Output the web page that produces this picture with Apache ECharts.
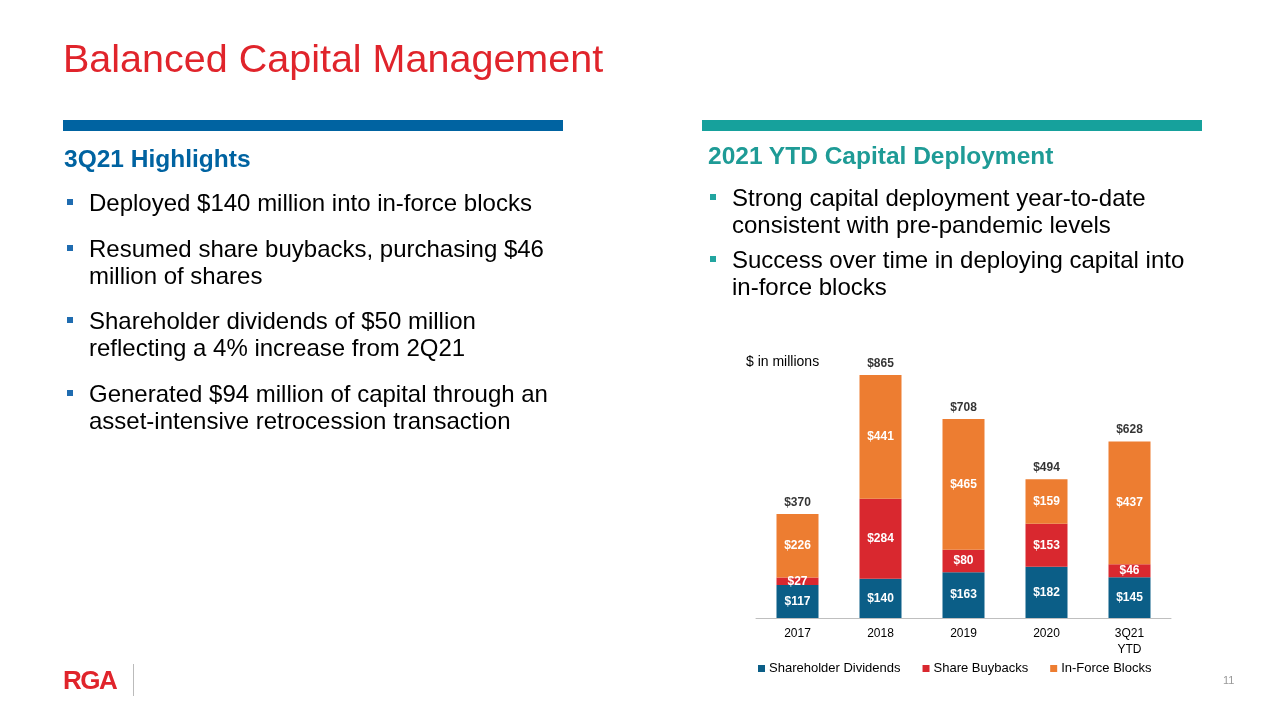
<!DOCTYPE html>
<html>
<head>
<meta charset="utf-8">
<script src="https://cdn.jsdelivr.net/npm/echarts@6/dist/echarts.min.js"></script>
<style>
  html, body { margin: 0; padding: 0; background: #fff; }
  body { width: 1280px; height: 720px; position: relative; overflow: hidden; font-family: "Liberation Sans", Arial, sans-serif; }
  #chart { position: absolute; left: 0; top: 0; width: 1280px; height: 720px; }
  .abs { position: absolute; white-space: nowrap; }
  .title { left: 63px; top: 38px; font-size: 39.5px; line-height: 40px; color: #E0242B; }
  .bar { height: 11px; }
  .h { font-size: 24.5px; font-weight: bold; line-height: 27px; }
  .p { font-size: 24px; line-height: 27.3px; color: #000; }
  .sq { width: 6px; height: 6px; }
</style>
</head>
<body>
<div id="chart"></div>

<div class="abs title">Balanced Capital Management</div>

<div class="abs bar" style="left:63px; top:120px; width:500px; background:#0063A1;"></div>
<div class="abs bar" style="left:702px; top:120px; width:500px; background:#16A19C;"></div>

<div class="abs h" style="left:64px; top:145px; color:#0063A1;">3Q21 Highlights</div>
<div class="abs h" style="left:708px; top:142px; color:#1E9B96;">2021 YTD Capital Deployment</div>

<div class="abs sq" style="left:67px; top:199px; background:#1F6CB0;"></div>
<div class="abs p" style="left:89px; top:189px;">Deployed $140 million into in-force blocks</div>
<div class="abs sq" style="left:67px; top:245px; background:#1F6CB0;"></div>
<div class="abs p" style="left:89px; top:235px;">Resumed share buybacks, purchasing $46<br>million of shares</div>
<div class="abs sq" style="left:67px; top:317px; background:#1F6CB0;"></div>
<div class="abs p" style="left:89px; top:307px;">Shareholder dividends of $50 million<br>reflecting a 4% increase from 2Q21</div>
<div class="abs sq" style="left:67px; top:390px; background:#1F6CB0;"></div>
<div class="abs p" style="left:89px; top:380px;">Generated $94 million of capital through an<br>asset-intensive retrocession transaction</div>

<div class="abs sq" style="left:710px; top:194px; background:#22A5A0;"></div>
<div class="abs p" style="left:732px; top:184px;">Strong capital deployment year-to-date<br>consistent with pre-pandemic levels</div>
<div class="abs sq" style="left:710px; top:256px; background:#22A5A0;"></div>
<div class="abs p" style="left:732px; top:246px;">Success over time in deploying capital into<br>in-force blocks</div>

<div class="abs" style="left:63px; top:664px; font-size:26px; line-height:32px; font-weight:bold; color:#E0242B; letter-spacing:-1.5px;">RGA</div>
<div class="abs" style="left:133px; top:664px; width:1px; height:32px; background:#BBBBBB;"></div>
<div class="abs" style="left:1223px; top:674px; font-size:11px; line-height:12px; color:#999;">11</div>

<script>
const categories = ['2017', '2018', '2019', '2020', '3Q21\nYTD'];
const dividends = [117, 140, 163, 182, 145];
const buybacks = [27, 284, 80, 153, 46];
const inforce = [226, 441, 465, 159, 437];
const seriesNames = ['Shareholder Dividends', 'Share Buybacks', 'In-Force Blocks'];
const totals = categories.map((_, i) => dividends[i] + buybacks[i] + inforce[i]);

const chart = echarts.init(document.getElementById('chart'), null, { renderer: 'canvas' });
const font = '"Liberation Sans", Arial, sans-serif';
const innerLabel = {
  show: true, position: 'inside', color: '#fff', fontWeight: 'bold',
  fontSize: 12, fontFamily: font, formatter: p => '$' + p.value
};
function barSeries(name, data, color) {
  return {
    name: name, type: 'bar', stack: 'total', data: data, barWidth: 42,
    itemStyle: { color: color }, label: innerLabel, silent: true
  };
}
chart.setOption({
  animation: false,
  textStyle: { fontFamily: font },
  grid: { left: 756, width: 415, top: 337, height: 281 },
  graphic: [{
    type: 'text', left: 746, top: 355,
    style: { text: '$ in millions', fontSize: 14, fontFamily: font, fill: '#000' }
  }],
  legend: {
    data: seriesNames, left: 753, top: 657, icon: 'rect', itemWidth: 7, itemHeight: 7,
    itemGap: 22, textStyle: { fontSize: 13, color: '#000', fontFamily: font, padding: [0, 0, 0, -1] }
  },
  xAxis: {
    type: 'category', data: categories,
    axisLine: { lineStyle: { color: '#BFBFBF', width: 1 } },
    axisTick: { show: false },
    axisLabel: { fontSize: 12, color: '#000', margin: 8, lineHeight: 16, fontFamily: font }
  },
  yAxis: { type: 'value', min: 0, max: 1000, show: false, splitLine: { show: false } },
  series: [
    barSeries(seriesNames[0], dividends, '#0B5E87'),
    barSeries(seriesNames[1], buybacks, '#D9282F'),
    barSeries(seriesNames[2], inforce, '#ED7D31'),
    {
      name: 'Total', type: 'scatter', data: totals, symbolSize: 1,
      itemStyle: { color: 'rgba(0,0,0,0)' }, silent: true,
      label: {
        show: true, position: 'top', distance: 5, color: '#000', fontWeight: 'bold',
        fontSize: 12, fontFamily: font, formatter: p => '$' + p.value
      }
    }
  ]
});
</script>
</body>
</html>
